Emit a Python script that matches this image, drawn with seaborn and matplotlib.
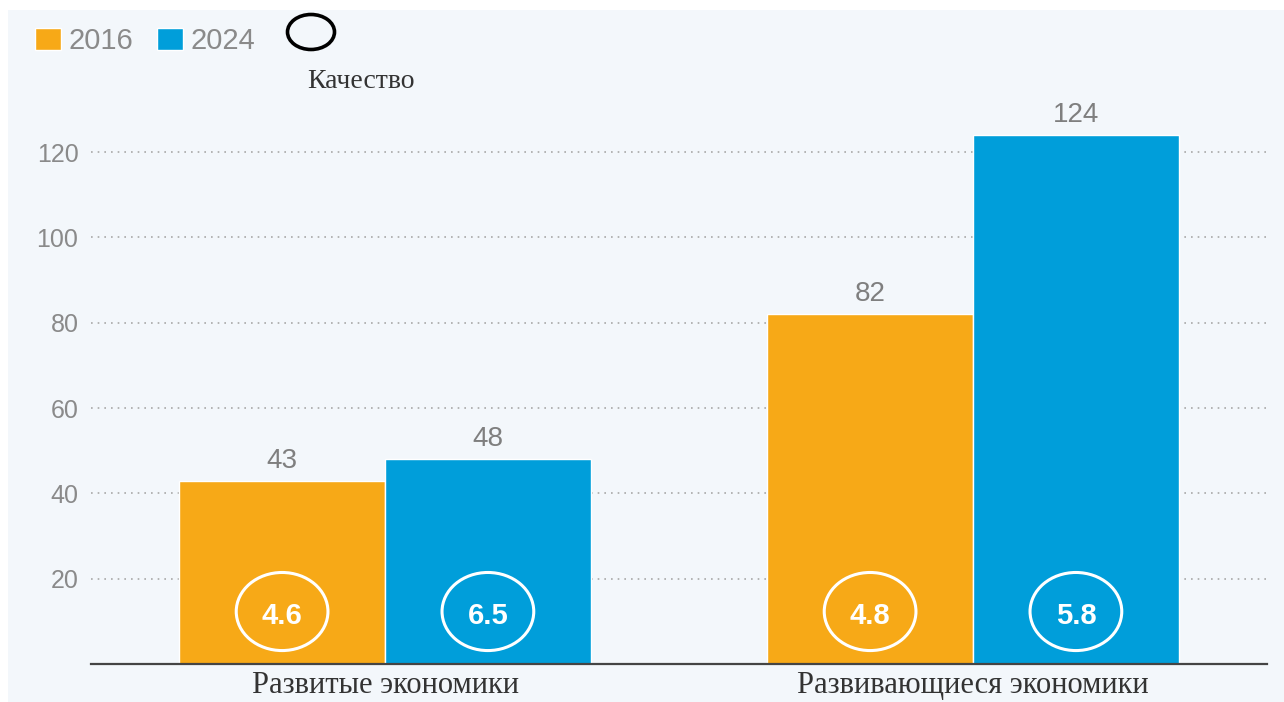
import pandas as pd
import numpy as np
import seaborn as sns
import matplotlib.pyplot as plt
from matplotlib.patches import Ellipse, Rectangle

# ---------------------------------------------------------------------------
# data
# ---------------------------------------------------------------------------
groups = ["Развитые экономики", "Развивающиеся экономики"]
years = ["2016", "2024"]
values_2016 = [43, 82]
values_2024 = [48, 124]
quality_2016 = [4.6, 4.8]
quality_2024 = [6.5, 5.8]
yticks = [20, 40, 60, 80, 100, 120]

ORANGE = "#F7A917"
BLUE = "#009EDA"
BG = "#F3F7FB"

df = pd.DataFrame({
    "group": groups * 2,
    "year": [years[0]] * 2 + [years[1]] * 2,
    "value": values_2016 + values_2024,
    "quality": quality_2016 + quality_2024,
})

sns.set_style("white")
plt.rcParams["font.family"] = ["Liberation Sans", "DejaVu Sans"]

fig = plt.figure(figsize=(12.84, 7.02), dpi=100, facecolor="white")
# light panel background (thin white margin on the left and top)
fig.patches.append(Rectangle((8 / 1284, 0), 1, 1 - 10 / 702,
                             transform=fig.transFigure, facecolor=BG,
                             edgecolor="none", zorder=-10))
ax = fig.add_axes([91 / 1284, 38 / 702, (1267 - 91) / 1284, 576 / 702])
ax.set_facecolor(BG)
ax.patch.set_alpha(0)

sns.barplot(data=df, x="group", y="value", hue="year", order=groups,
            hue_order=years, palette=[ORANGE, BLUE], width=0.7,
            saturation=1, ax=ax, zorder=3)

ax.set_xlim(-0.5, 1.5)
ax.set_ylim(0, 135)
ax.set_yticks(yticks)
ax.yaxis.grid(True, linestyle=(0, (1, 3)), color="#A8A8A8", linewidth=1.2,
              zorder=0)
ax.xaxis.grid(False)
for side in ["top", "right", "left"]:
    ax.spines[side].set_visible(False)
ax.spines["bottom"].set_color("#444444")
ax.spines["bottom"].set_linewidth(1.6)
ax.spines["bottom"].set_zorder(4)
ax.set_xlabel("")
ax.set_ylabel("")
ax.tick_params(axis="y", length=0, pad=9, labelsize=18, labelcolor="#8A8A8A")
ax.tick_params(axis="x", length=0, pad=5)
for lbl in ax.get_xticklabels():
    lbl.set_fontfamily(["Liberation Serif", "DejaVu Serif"])
    lbl.set_fontsize(22)
    lbl.set_color("#333333")

# value labels on top of bars
for cont in ax.containers:
    ax.bar_label(cont, padding=5, fontsize=20, color="#7F7F7F")

# quality circles inside bars
qual = {years[0]: quality_2016, years[1]: quality_2024}
for cont, yr in zip(ax.containers, years):
    for bar, q in zip(cont, qual[yr]):
        cx = bar.get_x() + bar.get_width() / 2
        ax.add_patch(Ellipse((cx, 12.3), 0.156, 18.3, facecolor="none",
                             edgecolor="white", linewidth=2.2, zorder=5))
        ax.text(cx, 11.2, f"{q}", ha="center", va="center", fontsize=21,
                fontweight="bold", color="white", zorder=6)

# legend
ax.get_legend().remove()
handles, labels = ax.get_legend_handles_labels()
fig.legend(handles, labels, loc="upper left", bbox_to_anchor=(35 / 1284, 1 - 27 / 702),
           ncol=2, frameon=False, fontsize=21, handlelength=0.9,
           handleheight=0.78, handletextpad=0.25, columnspacing=0.8,
           labelcolor="#8A8A8A", borderaxespad=0, borderpad=0)
fig.patches.append(Ellipse((311 / 1284, 1 - 32 / 702), 47 / 1284, 35 / 702,
                           transform=fig.transFigure, facecolor="none",
                           edgecolor="black", linewidth=2.6))
fig.text(361 / 1284, 1 - 81 / 702, "Качество", ha="center", va="center",
         fontsize=20, color="#333333",
         family=["Liberation Serif", "DejaVu Serif"])

plt.savefig("out.png", dpi=100, facecolor=fig.get_facecolor())
plt.close()
